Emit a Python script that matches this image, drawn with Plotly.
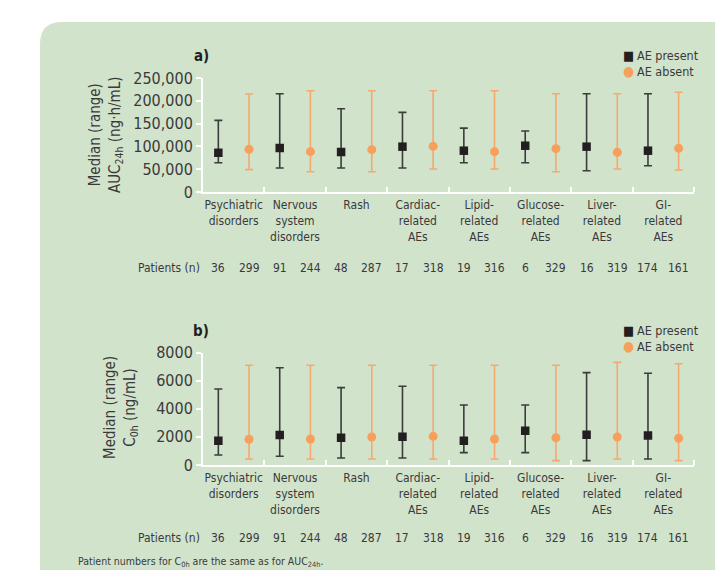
import plotly.graph_objects as go

W, H = 723, 570

categories = ["Psychiatric<br>disorders", "Nervous<br>system<br>disorders", "Rash",
              "Cardiac-<br>related<br>AEs", "Lipid-<br>related<br>AEs", "Glucose-<br>related<br>AEs",
              "Liver-<br>related<br>AEs", "GI-<br>related<br>AEs"]

n_present = [36, 91, 48, 17, 19, 6, 16, 174]
n_absent = [299, 244, 287, 318, 316, 329, 319, 161]

# Panel a) AUC24h (ng·h/mL)
auc_present_med = [86000, 96500, 87700, 99400, 90600, 101500, 99400, 90600]
auc_present_low = [64000, 52600, 52600, 52600, 64300, 64300, 46700, 57700]
auc_present_high = [157000, 215600, 182700, 174700, 140000, 133800, 215600, 215600]
auc_absent_med = [93600, 88400, 92800, 100100, 88400, 95000, 87000, 95700]
auc_absent_low = [49000, 44500, 44500, 50400, 50400, 44500, 50400, 48200]
auc_absent_high = [215000, 222000, 222000, 222000, 222000, 215600, 215600, 218600]

# Panel b) C0h (ng/mL)
c0_present_med = [1730, 2130, 1940, 2010, 1730, 2440, 2160, 2090]
c0_present_low = [710, 620, 500, 500, 880, 880, 310, 430]
c0_present_high = [5400, 6920, 5500, 5600, 4270, 4270, 6570, 6520]
c0_absent_med = [1830, 1850, 1990, 2040, 1850, 1940, 1990, 1900]
c0_absent_low = [430, 430, 430, 430, 430, 310, 430, 310]
c0_absent_high = [7090, 7090, 7090, 7090, 7090, 7090, 7300, 7200]

auc_ticks = [0, 50000, 100000, 150000, 200000, 250000]
c0_ticks = [0, 2000, 4000, 6000, 8000]

series_names = ["AE present", "AE absent"]

FONT = "Liberation Sans Narrow, DejaVu Sans Condensed, Arial Narrow, sans-serif"
TXT = "#3a3a3a"
BLACK = "#231f20"
BAR_DARK = "#3c3c3c"
ORANGE = "#f7a05c"
ORANGE_BAR = "#f5a96c"
GREEN = "rgb(210,227,204)"


def px(x):
    return x / W


def py(y):
    return 1 - y / H


idx = list(range(len(categories)))
xp = [i - 0.25 for i in idx]
xa = [i + 0.25 for i in idx]


def err(med, lo, hi):
    return dict(type="data", symmetric=False,
                array=[h - m for m, h in zip(med, hi)],
                arrayminus=[m - l for m, l in zip(med, lo)])


fig = go.Figure()

panels = [
    ("x", "y", auc_present_med, auc_present_low, auc_present_high,
     auc_absent_med, auc_absent_low, auc_absent_high),
    ("x2", "y2", c0_present_med, c0_present_low, c0_present_high,
     c0_absent_med, c0_absent_low, c0_absent_high),
]

for xr, yr, pm, pl, ph, am, al, ah in panels:
    e = err(pm, pl, ph)
    e.update(color=BAR_DARK, thickness=1.6, width=4)
    fig.add_trace(go.Scatter(x=xp, y=pm, mode="markers", name=series_names[0],
                             marker=dict(symbol="square", size=8.5, color=BLACK),
                             error_y=e, xaxis=xr, yaxis=yr, showlegend=False))
    e2 = err(am, al, ah)
    e2.update(color=ORANGE_BAR, thickness=1.6, width=4)
    fig.add_trace(go.Scatter(x=xa, y=am, mode="markers", name=series_names[1],
                             marker=dict(symbol="circle", size=9, color=ORANGE),
                             error_y=e2, xaxis=xr, yaxis=yr, showlegend=False))

xdom = [px(195), px(686)]
boundaries = [i + 0.5 for i in idx]

xaxis_common = dict(
    domain=xdom, range=[-0.5, 7.5], showline=True, linecolor="white", linewidth=2,
    showgrid=False, zeroline=False, tickmode="array", tickvals=idx, ticktext=categories,
    ticks="", ticklabelstandoff=1, tickfont=dict(family=FONT, size=12, color=TXT),
    minor=dict(tickmode="array", tickvals=boundaries, ticks="inside", ticklen=5,
               tickcolor="white", tickwidth=2, showgrid=False),
    automargin=False, fixedrange=True,
)
yaxis_common = dict(
    showline=True, linecolor="white", linewidth=2, showgrid=False, zeroline=False,
    ticks="outside", ticklen=5, tickcolor="white", tickwidth=2,
    tickfont=dict(family=FONT, size=16, color=TXT), automargin=False, fixedrange=True,
)

fig.update_layout(
    width=W, height=H, margin=dict(l=0, r=0, t=0, b=0),
    paper_bgcolor="white", plot_bgcolor="rgba(0,0,0,0)",
    xaxis=dict(**xaxis_common, anchor="y"),
    yaxis=dict(**yaxis_common, domain=[py(184), py(70)], range=[0, 250000],
               tickmode="array", tickvals=auc_ticks,
               ticktext=[f"{v:,}" for v in auc_ticks], anchor="x"),
    xaxis2=dict(**xaxis_common, anchor="y2"),
    yaxis2=dict(**yaxis_common, domain=[py(457), py(344.5)], range=[0, 8000],
                tickmode="array", tickvals=c0_ticks,
                ticktext=[str(v) for v in c0_ticks], anchor="x2"),
    showlegend=False,
)

# Green rounded background panel
x0, y0, r = px(32), py(14), 22
path = (f"M {x0},{py(600)} L {x0},{py(14 + r)} Q {x0},{y0} {px(32 + r)},{y0} "
        f"L {px(760)},{y0} L {px(760)},{py(600)} Z")
fig.add_shape(type="path", path=path, xref="paper", yref="paper",
              fillcolor=GREEN, line=dict(width=0), layer="below")

ann = []


def note(text, x, y, size, color=TXT, xanchor="center", xref="paper", **kw):
    ann.append(dict(text=text, x=x, y=y, xref=xref, yref="paper", xanchor=xanchor,
                    yanchor="middle", showarrow=False,
                    font=dict(family=FONT, size=size, color=color), **kw))


# panel labels
note("<b>a)</b>", px(193), py(48), 15, BLACK)
note("<b>b)</b>", px(193), py(323), 15, BLACK)
# y-axis titles
note("Median (range)<br>AUC<sub>24h</sub> (ng·h/mL)", px(97), py(127), 15, textangle=-90)
note("Median (range)<br>C<sub>0h</sub> (ng/mL)", px(112), py(400), 15, textangle=-90)

# legends
for ytop in (47, 322):
    note("■", px(620), py(ytop), 13, BLACK)
    note(series_names[0], px(627), py(ytop), 12.5, xanchor="left")
    note("●", px(620), py(ytop + 16), 14, ORANGE)
    note(series_names[1], px(627), py(ytop + 16), 12.5, xanchor="left")

# patients rows
for xr, yrow in (("x", 260), ("x2", 530)):
    note("Patients (n)", px(194), py(yrow), 12, xanchor="right")
    for xv, n in zip(xp, n_present):
        note(str(n), xv, py(yrow), 12, xref=xr)
    for xv, n in zip(xa, n_absent):
        note(str(n), xv, py(yrow), 12, xref=xr)

note("Patient numbers for C<sub>0h</sub> are the same as for AUC<sub>24h</sub>.",
     px(68), py(554), 10.5, xanchor="left")

fig.update_layout(annotations=ann)

fig.write_html("out.html")
